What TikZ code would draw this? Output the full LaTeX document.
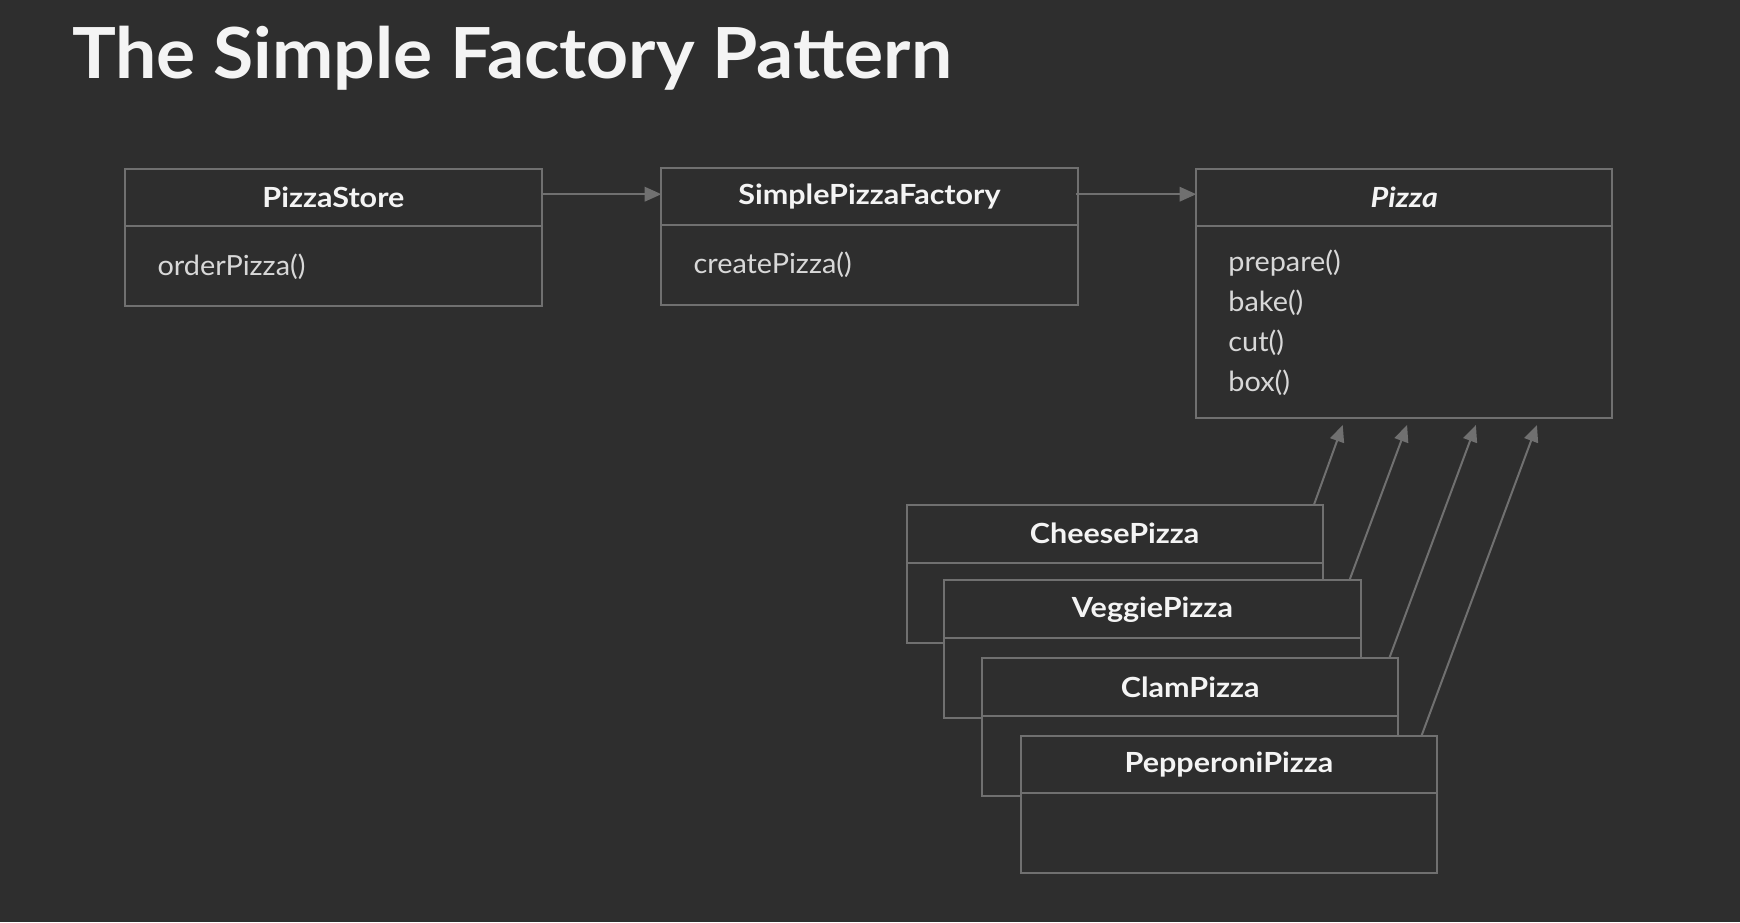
\documentclass[tikz,border=0pt]{standalone}
\usepackage{fontspec}
\setmainfont{Lato}
\newfontfamily\titlefont[FakeStretch=1.04]{Lato}
\newfontfamily\headfont[FakeStretch=1.1]{Lato}
\newfontfamily\bodyfont[FakeStretch=1.04]{Lato}
\usetikzlibrary{arrows.meta}
\usetikzlibrary{positioning}
\definecolor{slide}{RGB}{46,46,46}
\definecolor{edge}{RGB}{112,112,112}
\definecolor{ink}{RGB}{244,244,244}
\definecolor{soft}{RGB}{216,216,216}

\begin{document}
\begin{tikzpicture}[x=1pt,y=-1pt,line width=1.8pt,>={Triangle[length=15pt,width=13pt]},
    head/.style={draw=edge,fill=slide,text=ink,outer sep=0pt,inner sep=0pt,minimum width=375pt,minimum height=52pt,font=\fontsize{25}{30}\selectfont\headfont\bfseries},
    body/.style={draw=edge,fill=slide,text=soft,outer sep=0pt,inner xsep=29pt,inner ysep=0pt,text width=317pt,minimum height=72pt,align=left,font=\fontsize{25}{36}\selectfont\bodyfont},
    link/.style={draw=edge,fill=edge,->}]
    \fill[slide] (0,0) rectangle (1568,831);
    \useasboundingbox (0,0) rectangle (1568,831);

    \node[anchor=base west,inner sep=0pt,text=ink,font=\fontsize{63.5}{70}\selectfont\titlefont\bfseries] (title) at (64,71) {The Simple Factory Pattern};

    \node[head,anchor=north west] (storehead) at (113,152) {PizzaStore};
    \node[body,below=0pt of storehead] (storebody) {orderPizza()};
    \node[head,anchor=north west] (factoryhead) at (596,151) {SimplePizzaFactory};
    \node[body,below=0pt of factoryhead] (factorybody) {createPizza()};
    \node[head,anchor=north west,font=\fontsize{25}{30}\selectfont\headfont\bfseries\itshape] (pizzahead) at (1078,152) {Pizza};
    \node[body,below=0pt of pizzahead,minimum height=173pt] (pizzabody) {prepare()\\bake()\\cut()\\box()};

    \node[head,anchor=north west] (cheesehead) at (817,455) {CheesePizza};
    \node[body,below=0pt of cheesehead] (cheesebody) {};
    \node[head,anchor=north west] (veggiehead) at (851,523) {VeggiePizza};
    \node[body,below=0pt of veggiehead] (veggiebody) {};
    \node[head,anchor=north west] (clamhead) at (885,593) {ClamPizza};
    \node[body,below=0pt of clamhead] (clambody) {};
    \node[head,anchor=north west] (pepperonihead) at (920,663) {PepperoniPizza};
    \node[body,below=0pt of pepperonihead] (pepperonibody) {};

    \coordinate (storeout) at (488,175);
    \coordinate (factoryout) at (970,175);
    \coordinate (cheesetip) at (1210,383);
    \coordinate (veggietip) at (1268,383);
    \coordinate (clamtip) at (1330,383);
    \coordinate (pepperonitip) at (1385,383);

    \draw[link] (storeout) -- (storeout -| factoryhead.west);
    \draw[link] (factoryout) -- (factoryout -| pizzahead.west);
    \draw[link] ([xshift=-8pt]cheesehead.north east) -- (cheesetip);
    \draw[link] ([xshift=-10pt]veggiehead.north east) -- (veggietip);
    \draw[link] ([xshift=-8pt]clamhead.north east) -- (clamtip);
    \draw[link] ([xshift=-14pt]pepperonihead.north east) -- (pepperonitip);
\end{tikzpicture}
\end{document}
